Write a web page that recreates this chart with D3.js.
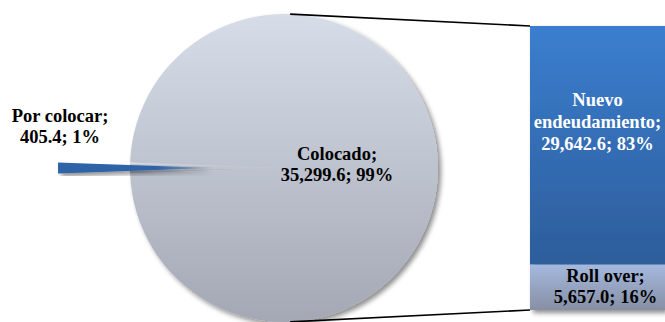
<!DOCTYPE html>
<html>
<head>
<meta charset="utf-8">
<script src="https://cdn.jsdelivr.net/npm/d3@7"></script>
<style>
  html, body { margin: 0; padding: 0; background: #fff; }
  svg { display: block; }
</style>
</head>
<body>
<svg id="chart" width="665" height="322"></svg>
<script>
// Pie data
const pieCategories = ["Por colocar", "Colocado"];
const pieValues = [405.4, 35299.6];
const piePercents = ["1%", "99%"];
// Bar (breakdown of "Colocado")
const barCategories = ["Roll over", "Nuevo endeudamiento"];
const barValues = [5657.0, 29642.6];
const barPercents = ["16%", "83%"];

const fmt = d3.format(",.1f");
const svg = d3.select("#chart");

const defs = svg.append("defs");
function lin(id, stops, x2, y2) {
  const g = defs.append("linearGradient").attr("id", id)
    .attr("x1", 0).attr("y1", 0).attr("x2", x2).attr("y2", y2);
  stops.forEach(s => g.append("stop").attr("offset", s[0]).attr("stop-color", s[1]));
}
lin("gPie", [[0, "#d6dde9"], [1, "#a4a8b4"]], 0, 1);
lin("gBlue", [[0, "#3b7ecf"], [1, "#2d5d9b"]], 0, 1);
lin("gRoll", [[0, "#a5b9df"], [1, "#878fa4"]], 0, 1);
lin("gSlice", [[0, "#2f63a8"], [0.65, "#2f63a8"], [1, "#a3a8b2"]], 1, 0);
lin("gGap", [[0, "#b5b9c2"], [1, "#c9ccd3"]], 1, 0);

const sh = defs.append("filter").attr("id", "shadow")
  .attr("x", "-10%").attr("y", "-10%").attr("width", "130%").attr("height", "130%");
sh.append("feGaussianBlur").attr("in", "SourceAlpha").attr("stdDeviation", 2.5).attr("result", "b");
sh.append("feOffset").attr("in", "b").attr("dx", 3).attr("dy", 3).attr("result", "o");
sh.append("feComponentTransfer").attr("in", "o").attr("result", "o2")
  .append("feFuncA").attr("type", "linear").attr("slope", 0.45);
const m = sh.append("feMerge");
m.append("feMergeNode").attr("in", "o2");
m.append("feMergeNode").attr("in", "SourceGraphic");

// Pie geometry
const cx = 284, cy = 168, r = 154, explode = 72;
const total = d3.sum(pieValues);
const smallAngle = pieValues[0] / total * 2 * Math.PI;
const pie = d3.pie().sort(null)
  .startAngle(-Math.PI / 2 - smallAngle / 2)
  .endAngle(-Math.PI / 2 - smallAngle / 2 + 2 * Math.PI);
const arcs = pie(pieValues);
const arc = d3.arc().innerRadius(0).outerRadius(r);

const g = svg.append("g").attr("transform", `translate(${cx},${cy})`);

// Colocado slice
g.append("path").attr("d", arc(arcs[1])).attr("fill", "url(#gPie)").attr("filter", "url(#shadow)");
// gap left by the exploded slice (shadowed)
g.append("path").attr("d", arc(arcs[0])).attr("fill", "url(#gPie)");
const mid0 = (arcs[0].startAngle + arcs[0].endAngle) / 2;
g.append("path").attr("d", arc({ startAngle: mid0 - smallAngle * 0.22, endAngle: mid0 + smallAngle * 0.3 }))
  .attr("fill", "url(#gGap)");

// Exploded Por colocar slice
const off = d3.pointRadial(mid0, explode);
g.append("path").attr("d", arc(arcs[0]))
  .attr("transform", `translate(${off[0]},${off[1]})`)
  .attr("fill", "url(#gSlice)").attr("filter", "url(#shadow)");

// Bar
const barX0 = 530, barX1 = 665, barTop = 26, barBottom = 310;
const y = d3.scaleLinear().domain([0, d3.sum(barValues)]).range([barBottom, barTop]);
const stack = [];
let acc = 0;
barValues.forEach((v, i) => { stack.push({ i, y0: acc, y1: acc + v }); acc += v; });
const barFills = ["url(#gRoll)", "url(#gBlue)"];
const barG = svg.append("g").attr("filter", "url(#shadow)");
barG.selectAll("rect").data(stack).join("rect")
  .attr("x", barX0).attr("width", barX1 - barX0)
  .attr("y", d => y(d.y1)).attr("height", d => y(d.y0) - y(d.y1))
  .attr("fill", (d, i) => barFills[i]);

// Connector lines
const pTop = d3.pointRadial(0.04, r), pBot = d3.pointRadial(Math.PI - 0.04, r);
svg.append("line").attr("x1", cx + pTop[0]).attr("y1", cy + pTop[1])
  .attr("x2", barX0).attr("y2", y(d3.sum(barValues)))
  .attr("stroke", "#000").attr("stroke-width", 1.6);
svg.append("line").attr("x1", cx + pBot[0]).attr("y1", cy + pBot[1])
  .attr("x2", barX0).attr("y2", y(0))
  .attr("stroke", "#000").attr("stroke-width", 1.6);

// Labels
function label(lines, x, yBase, color, lh) {
  const t = svg.append("text").attr("text-anchor", "middle").attr("fill", color)
    .attr("font-family", "Liberation Serif")
    .attr("font-weight", "bold").attr("font-size", 18.5);
  lines.forEach((s, k) => t.append("tspan").attr("x", x).attr("y", yBase + k * lh).text(s));
}
label([pieCategories[0] + ";", fmt(pieValues[0]) + "; " + piePercents[0]], 60, 122, "#000", 21);
label([pieCategories[1] + ";", fmt(pieValues[1]) + "; " + piePercents[1]], 337, 160, "#000", 21);
const nuevoMid = (y(stack[1].y0) + y(stack[1].y1)) / 2;
label(["Nuevo", "endeudamiento;", fmt(barValues[1]) + "; " + barPercents[1]], (barX0 + barX1) / 2, nuevoMid - 39, "#fff", 22);
const rollMid = (y(stack[0].y0) + y(stack[0].y1)) / 2;
label([barCategories[0] + ";", fmt(barValues[0]) + "; " + barPercents[0]], (barX0 + barX1) / 2 + 8, rollMid - 5, "#000", 21);
</script>
</body>
</html>
